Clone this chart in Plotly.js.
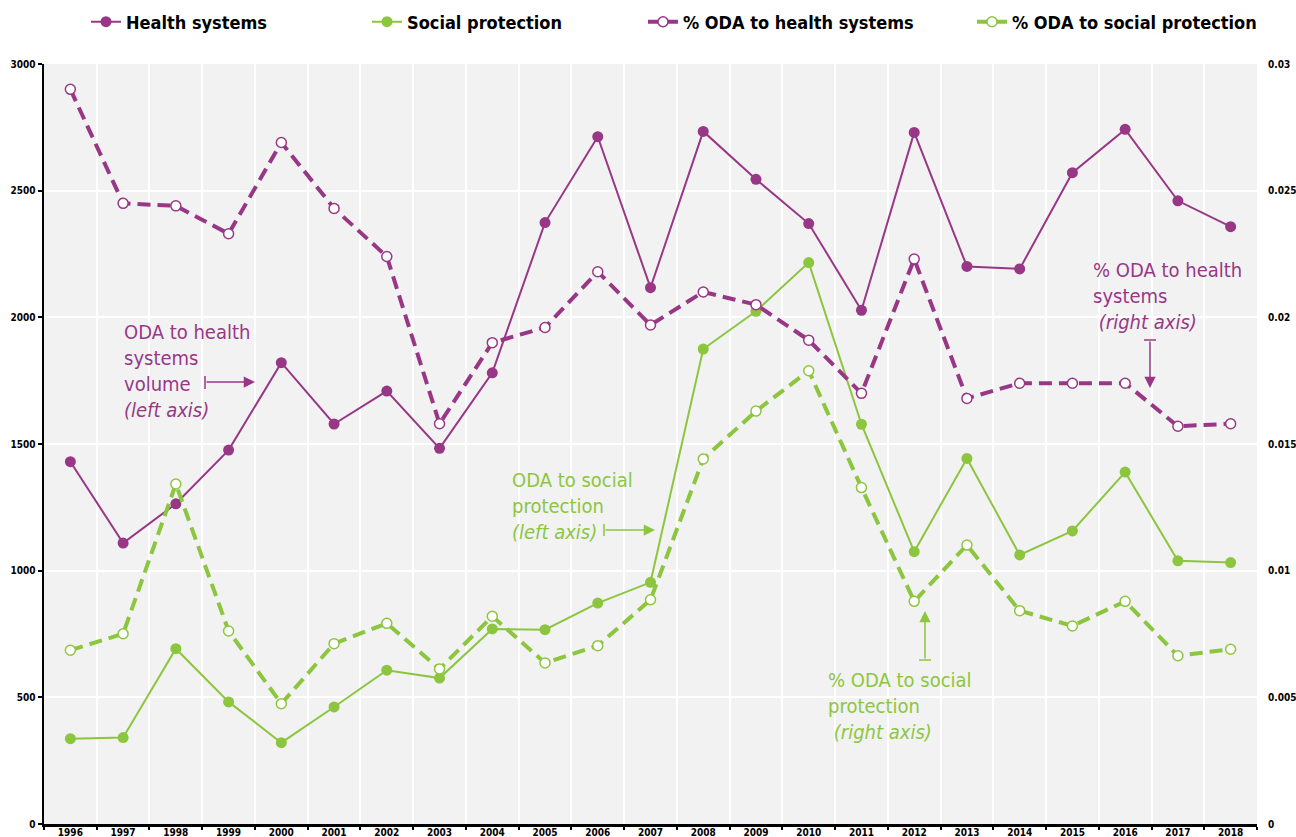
<!DOCTYPE html>
<html>
<head>
<meta charset="utf-8">
<script src="https://cdn.plot.ly/plotly-3.0.1.min.js"></script>
<style>
html,body{margin:0;padding:0;background:#fff;}
#chart{width:1296px;height:837px;}
</style>
</head>
<body>
<div id="chart"></div>
<script>
// ---- data ----
const years = ['1996','1997','1998','1999','2000','2001','2002','2003','2004','2005','2006','2007','2008','2009','2010','2011','2012','2013','2014','2015','2016','2017','2018'];
const healthSystems = [1430,1109,1264,1476,1821,1579,1709,1483,1781,2374,2713,2117,2734,2545,2370,2028,2730,2201,2191,2571,2742,2460,2358];
const socialProtection = [337,341,692,482,321,462,607,576,770,767,872,954,1875,2024,2216,1578,1075,1443,1062,1157,1389,1039,1032];
const pctHealthSystems = [0.0290,0.0245,0.0244,0.0233,0.0269,0.0243,0.0224,0.0158,0.0190,0.0196,0.0218,0.0197,0.0210,0.0205,0.0191,0.0170,0.0223,0.0168,0.0174,0.0174,0.0174,0.0157,0.0158];
const pctSocialProtection = [0.00686,0.00751,0.01342,0.00762,0.00475,0.00712,0.00792,0.00612,0.0082,0.00636,0.00704,0.00885,0.01441,0.0163,0.01789,0.01328,0.00879,0.01101,0.00842,0.00782,0.00879,0.00664,0.0069];
const seriesNames = ['Health systems','Social protection','% ODA to health systems','% ODA to social protection'];

// ---- style ----
const PURPLE = '#993787';
const GREEN = '#8cc63f';
const FONT = '"Liberation Sans Narrow", "DejaVu Sans Condensed", "Arial Narrow", sans-serif';

const traces = [
  {x: years, y: healthSystems, name: seriesNames[0], type: 'scatter', mode: 'lines+markers',
   line: {color: PURPLE, width: 2}, marker: {color: PURPLE, size: 11}, legend: 'legend'},
  {x: years, y: socialProtection, name: seriesNames[1], type: 'scatter', mode: 'lines+markers',
   line: {color: GREEN, width: 2}, marker: {color: GREEN, size: 11}, legend: 'legend2'},
  {x: years, y: pctHealthSystems, name: seriesNames[2], type: 'scatter', mode: 'lines+markers', yaxis: 'y2',
   line: {color: PURPLE, width: 4, dash: '13px,7px'}, marker: {color: '#ffffff', size: 10, line: {color: PURPLE, width: 1.5}}, legend: 'legend3'},
  {x: years, y: pctSocialProtection, name: seriesNames[3], type: 'scatter', mode: 'lines+markers', yaxis: 'y2',
   line: {color: GREEN, width: 4, dash: '13px,7px'}, marker: {color: '#ffffff', size: 10, line: {color: GREEN, width: 1.5}}, legend: 'legend4'}
];

// legend placed by the x pixel where its text should start
function legendAt(textPx) {
  return {xref: 'container', yref: 'container', x: (textPx - 40) / 1296, y: 1 - 22 / 837,
    xanchor: 'left', yanchor: 'middle', orientation: 'h', bgcolor: 'rgba(0,0,0,0)', borderwidth: 0,
    font: {family: FONT, size: 18, color: '#000', weight: 'bold'}};
}

function px2x(px){ return (px - 44) / 1213; }
function py2y(py){ return (824 - py) / 760; }

const annFont = {family: FONT, size: 20};
const annotations = [
  {xref:'paper', yref:'paper', x:px2x(122), y:py2y(318), xanchor:'left', yanchor:'top', align:'left', showarrow:false,
   text:'ODA to health<br>systems<br>volume<br><i>(left axis)</i>', font:Object.assign({color:PURPLE}, annFont)},
  {xref:'paper', yref:'paper', x:px2x(255), y:py2y(382), ax:-50, ay:0, text:'', showarrow:true,
   arrowhead:2, arrowsize:1.5, arrowwidth:1.5, arrowcolor:PURPLE},
  {xref:'paper', yref:'paper', x:px2x(510), y:py2y(466), xanchor:'left', yanchor:'top', align:'left', showarrow:false,
   text:'ODA to social<br>protection<br><i>(left axis)</i>', font:Object.assign({color:GREEN}, annFont)},
  {xref:'paper', yref:'paper', x:px2x(655), y:py2y(530), ax:-51, ay:0, text:'', showarrow:true,
   arrowhead:2, arrowsize:1.5, arrowwidth:1.5, arrowcolor:GREEN},
  {xref:'paper', yref:'paper', x:px2x(826), y:py2y(666), xanchor:'left', yanchor:'top', align:'left', showarrow:false,
   text:'% ODA to social<br>protection<br> <i>(right axis)</i>', font:Object.assign({color:GREEN}, annFont)},
  {xref:'paper', yref:'paper', x:px2x(925), y:py2y(611), ax:0, ay:49, text:'', showarrow:true,
   arrowhead:2, arrowsize:1.5, arrowwidth:1.5, arrowcolor:GREEN},
  {xref:'paper', yref:'paper', x:px2x(1091), y:py2y(256), xanchor:'left', yanchor:'top', align:'left', showarrow:false,
   text:'% ODA to health<br>systems<br> <i>(right axis)</i>', font:Object.assign({color:PURPLE}, annFont)},
  {xref:'paper', yref:'paper', x:px2x(1150), y:py2y(388), ax:0, ay:-48, text:'', showarrow:true,
   arrowhead:2, arrowsize:1.5, arrowwidth:1.5, arrowcolor:PURPLE}
];

const shapes = [
  {type:'line', xref:'paper', yref:'paper', x0:px2x(205), x1:px2x(205), y0:py2y(376), y1:py2y(389), line:{color:PURPLE, width:1.5}},
  {type:'line', xref:'paper', yref:'paper', x0:px2x(604), x1:px2x(604), y0:py2y(524), y1:py2y(536), line:{color:GREEN, width:1.5}},
  {type:'line', xref:'paper', yref:'paper', x0:px2x(919), x1:px2x(931), y0:py2y(660), y1:py2y(660), line:{color:GREEN, width:1.5}},
  {type:'line', xref:'paper', yref:'paper', x0:px2x(1144), x1:px2x(1156), y0:py2y(340), y1:py2y(340), line:{color:PURPLE, width:1.5}}
];

const tickFont = {family: FONT, size: 10, color: '#000', weight: 'bold'};

const layout = {
  width: 1296, height: 837,
  margin: {l: 44, r: 39, t: 64, b: 13, pad: 0, autoexpand: false},
  paper_bgcolor: '#ffffff',
  plot_bgcolor: '#f2f2f2',
  font: {family: FONT},
  showlegend: true,
  legend: legendAt(126),
  legend2: legendAt(407),
  legend3: legendAt(683),
  legend4: legendAt(1012),
  xaxis: {
    type: 'category', range: [-0.5, years.length - 0.5], automargin: false,
    tickson: 'boundaries', ticks: 'outside', ticklen: 3, tickwidth: 2, tickcolor: '#000',
    showline: true, linecolor: '#000', linewidth: 2.5, showgrid: true, gridcolor: '#ffffff', gridwidth: 2,
    tickfont: tickFont, ticklabelstandoff: -3, fixedrange: true
  },
  yaxis: {
    range: [0, 3000], dtick: 500, ticks: 'outside', ticklen: 4, tickwidth: 2, tickcolor: '#000', automargin: false,
    showline: true, linecolor: '#000', linewidth: 2.5, showgrid: true, gridcolor: '#ffffff', gridwidth: 2,
    zeroline: false, tickfont: tickFont, fixedrange: true
  },
  yaxis2: {
    overlaying: 'y', side: 'right', range: [0, 0.03], dtick: 0.005, showgrid: false, zeroline: false, automargin: false,
    showline: false, ticks: '', tickfont: tickFont, ticklabelstandoff: 10, fixedrange: true
  },
  annotations: annotations,
  shapes: shapes
};

Plotly.newPlot('chart', traces, layout, {displayModeBar: false, staticPlot: true});
</script>
</body>
</html>
